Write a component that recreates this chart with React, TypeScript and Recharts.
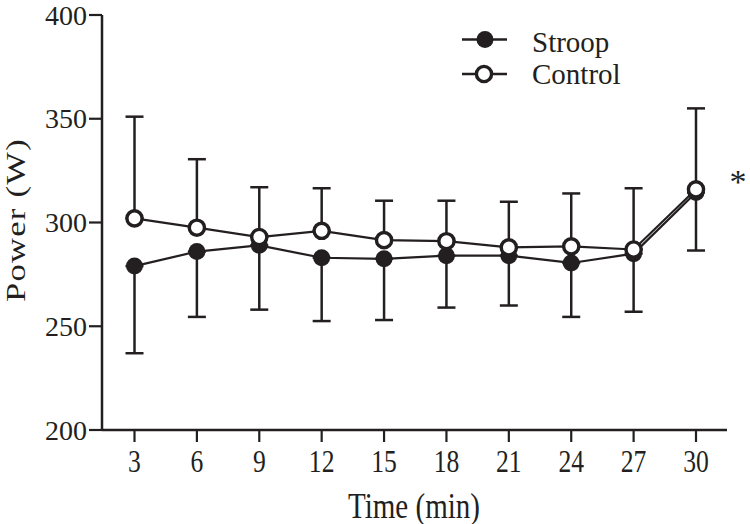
import React from 'react';
import { LineChart, Line, XAxis, YAxis, ErrorBar, Legend, ReferenceDot } from 'recharts';

const times = [3, 6, 9, 12, 15, 18, 21, 24, 27, 30];
const stroopMean = [279, 286, 289, 283, 282.5, 284, 284, 280.5, 285, 314.5];
const stroopSD = [42, 31.5, 31, 30.5, 29.5, 25, 24, 26, 28, 28];
const controlMean = [302, 297.5, 293, 296, 291.5, 291, 288, 288.5, 287, 316];
const controlSD = [49, 33, 24, 20.5, 19, 19.5, 22, 25.5, 29.5, 39];
const yTicks = [200, 250, 300, 350, 400];
const seriesNames = ['Stroop', 'Control'];

const data = times.map((t, i) => ({
  t,
  stroop: stroopMean[i],
  control: controlMean[i],
  stroopErr: [stroopSD[i], 0],
  controlErr: [0, controlSD[i]],
}));

const INK = '#231f20';
const FONT = '"Liberation Serif", "Times New Roman", Times, serif';

const XTick = (props: any) => {
  const { x, y, payload } = props;
  return (
    <g transform={`translate(${x},${y})`}>
      <text x={0} y={0} dy={27.5} textAnchor="middle" fontSize={32} fontFamily={FONT} fill={INK} transform="scale(0.8,1)">
        {payload.value}
      </text>
    </g>
  );
};

const YTick = (props: any) => {
  const { x, y, payload } = props;
  return (
    <text x={x} y={y} dy={9.5} textAnchor="end" fontSize={28} fontFamily={FONT} fill={INK}>
      {payload.value}
    </text>
  );
};

const XTitle = (props: any) => {
  const vb = props.viewBox;
  return (
    <g transform={`translate(${vb.x + vb.width / 2 - 0.5},${vb.y + 87.7})`}>
      <text x={0} y={0} textAnchor="middle" fontSize={35} fontFamily={FONT} fill={INK} transform="scale(0.83,1)">
        Time (min)
      </text>
    </g>
  );
};

const YTitle = (props: any) => {
  const vb = props.viewBox;
  return (
    <g transform={`translate(${vb.x + 25},${vb.y + vb.height / 2 - 2.5}) rotate(-90) scale(1.28,1)`}>
      <text x={0} y={0} textAnchor="middle" fontSize={27} letterSpacing={1} fontFamily={FONT} fill={INK}>
        Power (W)
      </text>
    </g>
  );
};

const Asterisk = (props: any) => {
  const vb = props.viewBox;
  const cx = vb.x + vb.width / 2;
  const cy = vb.y + vb.height / 2;
  return (
    <text x={cx + 42} y={cy + 4} textAnchor="middle" fontSize={34} fontFamily={FONT} fill={INK}>
      *
    </text>
  );
};

const renderLegend = (props: any) => {
  const payload = [...(props.payload || [])].sort(
    (a: any, b: any) => seriesNames.indexOf(a.value) - seriesNames.indexOf(b.value)
  );
  const rows = [
    { sym: 19.5, base: 32 },
    { sym: 54, base: 63.5 },
  ];
  return (
    <svg width={220} height={80} style={{ display: 'block' }}>
      {payload.map((entry: any, i: number) => {
        const r = rows[i] || rows[0];
        const filled = entry.dataKey === 'stroop';
        return (
          <g key={String(entry.value)}>
            <line x1={7} x2={52} y1={r.sym} y2={r.sym} stroke={INK} strokeWidth={2.4} />
            {filled ? (
              <circle cx={30} cy={r.sym} r={8.5} fill={INK} />
            ) : (
              <circle cx={29} cy={r.sym} r={7.6} fill="#fff" stroke={INK} strokeWidth={3.4} />
            )}
            <text x={77} y={r.base} fontSize={29} fontFamily={FONT} fill={INK}>
              {entry.value}
            </text>
          </g>
        );
      })}
    </svg>
  );
};

export default function App() {
  return (
    <div style={{ position: 'absolute', left: 0, top: 0, width: 750, height: 524, background: '#fff' }}>
      <LineChart width={750} height={524} data={data} margin={{ top: 15, right: 23, left: 0, bottom: 0 }}>
        <XAxis
          dataKey="t"
          type="category"
          height={94}
          padding={{ left: 32.5, right: 31 }}
          axisLine={{ stroke: INK, strokeWidth: 2.5 }}
          tickLine={{ stroke: INK, strokeWidth: 2.2 }}
          tickSize={12}
          tickMargin={2}
          tick={XTick}
          interval={0}
          label={XTitle}
        />
        <YAxis
          type="number"
          domain={[200, 400]}
          ticks={yTicks}
          width={102}
          axisLine={{ stroke: INK, strokeWidth: 2.5 }}
          tickLine={{ stroke: INK, strokeWidth: 2.2 }}
          tickSize={13}
          tickMargin={2}
          tick={YTick}
          interval={0}
          allowDataOverflow
          label={YTitle}
        />
        <Legend
          layout="vertical"
          align="center"
          verticalAlign="middle"
          wrapperStyle={{ left: 455, top: 20, width: 220, height: 80 }}
          content={renderLegend}
        />
        <Line
          name={seriesNames[0]}
          dataKey="stroop"
          stroke={INK}
          strokeWidth={2.2}
          dot={{ r: 8.5, fill: INK, stroke: INK, strokeWidth: 0 }}
          activeDot={false}
          isAnimationActive={false}
        >
          <ErrorBar dataKey="stroopErr" direction="y" width={9} stroke={INK} strokeWidth={2.5} isAnimationActive={false} />
        </Line>
        <Line
          name={seriesNames[1]}
          dataKey="control"
          stroke={INK}
          strokeWidth={2.2}
          dot={{ r: 7.6, fill: '#fff', stroke: INK, strokeWidth: 3.4 }}
          activeDot={false}
          isAnimationActive={false}
        >
          <ErrorBar dataKey="controlErr" direction="y" width={9} stroke={INK} strokeWidth={2.5} isAnimationActive={false} />
        </Line>
        <ReferenceDot
          x={times[times.length - 1]}
          y={controlMean[controlMean.length - 1]}
          r={1}
          fill="none"
          stroke="none"
          ifOverflow="visible"
          label={Asterisk}
        />
      </LineChart>
    </div>
  );
}
